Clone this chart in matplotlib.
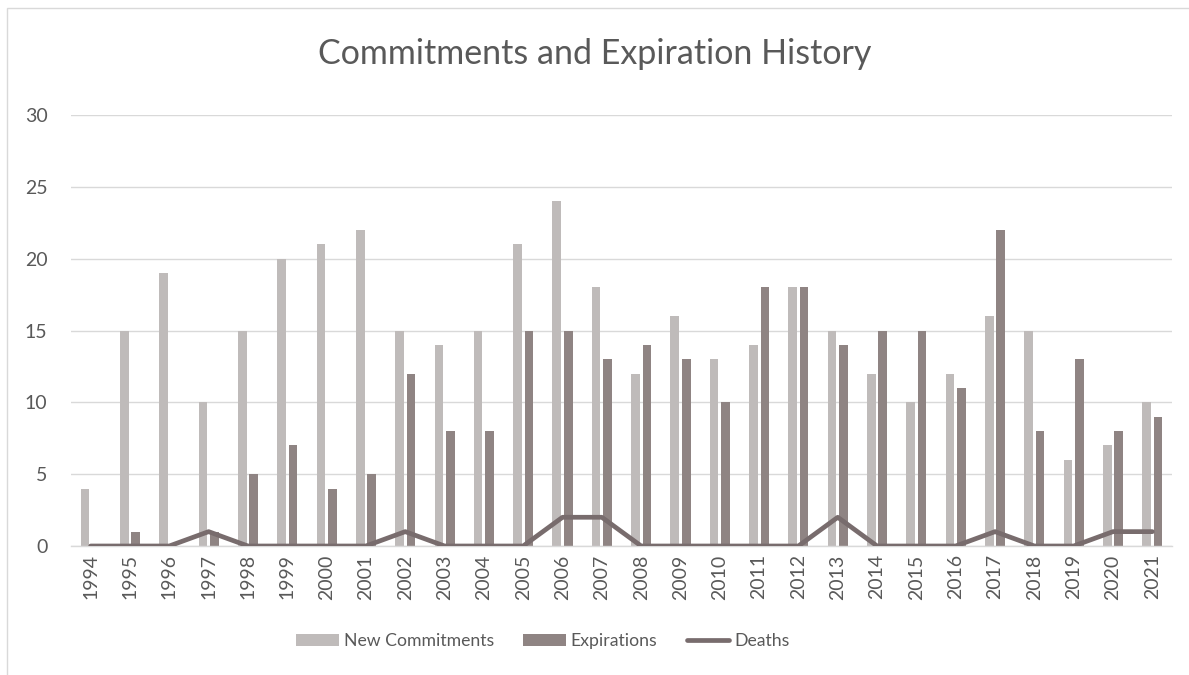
import matplotlib
matplotlib.use("Agg")
import matplotlib.pyplot as plt
from matplotlib.patches import Rectangle
import numpy as np

years = [str(y) for y in range(1994, 2022)]
new_commitments = [4, 15, 19, 10, 15, 20, 21, 22, 15, 14, 15, 21, 24, 18, 12, 16, 13, 14, 18, 15, 12, 10, 12, 16, 15, 6, 7, 10]
expirations = [0, 1, 0, 1, 5, 7, 4, 5, 12, 8, 8, 15, 15, 13, 14, 13, 10, 18, 18, 14, 15, 15, 11, 22, 8, 13, 8, 9]
deaths = [0, 0, 0, 1, 0, 0, 0, 0, 1, 0, 0, 0, 2, 2, 0, 0, 0, 0, 0, 2, 0, 0, 0, 1, 0, 0, 1, 1]
y_ticks = [0, 5, 10, 15, 20, 25, 30]

C_NEW = "#bfbbba"
C_EXP = "#8f8483"
C_DEATH = "#786c6d"
C_TEXT = "#595959"
C_GRID = "#d9d9d9"

plt.rcParams['font.family'] = ['Lato', 'DejaVu Sans']

W, H = 1189, 675
fig = plt.figure(figsize=(W / 100, H / 100), dpi=100)
ax = fig.add_axes([71 / W, 1 - 546 / H, (1172 - 71) / W, (546 - 115) / H])

x = np.arange(len(years))
bw = 0.22
off = 0.145
b1 = ax.bar(x - off, new_commitments, width=bw, color=C_NEW, label="New Commitments", zorder=2)
b2 = ax.bar(x + off, expirations, width=bw, color=C_EXP, label="Expirations", zorder=2)
l1, = ax.plot(x, deaths, color=C_DEATH, lw=3.4, label="Deaths", zorder=3,
              solid_joinstyle='round', solid_capstyle='round')

ax.set_xlim(-0.5, len(years) - 0.5)
ax.set_ylim(0, 30)
ax.set_yticks(y_ticks)
ax.set_xticks(x)
ax.set_xticklabels(years, rotation=90)
ax.tick_params(axis='both', length=0, labelsize=14, colors=C_TEXT)
ax.tick_params(axis='y', pad=17)
ax.tick_params(axis='x', pad=6)
ax.yaxis.grid(True, color=C_GRID, lw=1.0, zorder=0)
ax.set_axisbelow(True)
for s in ['top', 'right', 'left']:
    ax.spines[s].set_visible(False)
ax.spines['bottom'].set_color(C_GRID)
ax.spines['bottom'].set_linewidth(1.0)

fig.text(0.5, 1 - 54 / H, "Commitments and Expiration History", ha='center', va='center',
         fontsize=24.5, color=C_TEXT)

leg = fig.legend([b1, b2, l1], ["New Commitments", "Expirations", "Deaths"],
                 loc='center', bbox_to_anchor=(543 / W, 1 - 641 / H), ncol=3, frameon=False,
                 fontsize=12.7, handlelength=2.4, handleheight=0.65, handletextpad=0.3,
                 columnspacing=1.65, labelcolor=C_TEXT)

fig.patches.append(Rectangle((7 / W, -0.1), 1.2, 1 - 8 / H + 0.1, transform=fig.transFigure,
                             fill=False, ec=C_GRID, lw=1.0))

fig.savefig("out.png", dpi=100)
